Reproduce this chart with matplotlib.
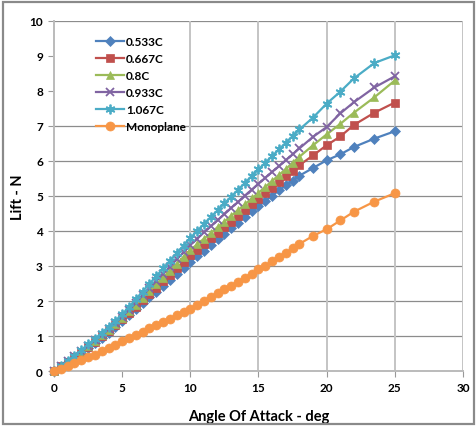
import matplotlib
matplotlib.use("Agg")
import matplotlib.pyplot as plt
from matplotlib.patches import Rectangle

plt.rcParams['font.family'] = ['Lato', 'DejaVu Sans']

# angle of attack (deg): 0.5 steps up to 18, then coarser
angle = [0, 0.5, 1, 1.5, 2, 2.5, 3, 3.5, 4, 4.5, 5, 5.5, 6, 6.5, 7, 7.5, 8, 8.5,
         9, 9.5, 10, 10.5, 11, 11.5, 12, 12.5, 13, 13.5, 14, 14.5, 15, 15.5, 16,
         16.5, 17, 17.5, 18, 19, 20, 21, 22, 23.5, 25]

lift_0533 = [0.00, 0.12, 0.25, 0.38, 0.52, 0.66, 0.80, 0.95, 1.10, 1.26, 1.42,
             1.59, 1.76, 1.93, 2.10, 2.27, 2.44, 2.61, 2.78, 2.95, 3.12,
             3.28, 3.44, 3.60, 3.76, 3.92, 4.08, 4.24, 4.40, 4.56, 4.71,
             4.86, 5.01, 5.16, 5.30, 5.44, 5.58,
             5.80, 6.02, 6.19, 6.40, 6.64, 6.85]
lift_0667 = [0.00, 0.13, 0.26, 0.40, 0.54, 0.69, 0.84, 0.99, 1.15, 1.31, 1.48,
             1.66, 1.84, 2.02, 2.20, 2.38, 2.56, 2.75, 2.93, 3.12, 3.30,
             3.47, 3.63, 3.79, 3.95, 4.11, 4.27, 4.43, 4.60, 4.76, 4.92,
             5.08, 5.24, 5.40, 5.56, 5.72, 5.88,
             6.16, 6.45, 6.70, 7.03, 7.38, 7.67]
lift_08 = [0.00, 0.13, 0.27, 0.41, 0.56, 0.71, 0.86, 1.02, 1.18, 1.35, 1.52,
           1.71, 1.90, 2.09, 2.29, 2.48, 2.67, 2.87, 3.06, 3.26, 3.45,
           3.62, 3.78, 3.94, 4.11, 4.27, 4.44, 4.60, 4.76, 4.93, 5.09,
           5.26, 5.43, 5.60, 5.77, 5.95, 6.12,
           6.45, 6.76, 7.06, 7.38, 7.82, 8.30]
lift_0933 = [0.00, 0.14, 0.28, 0.42, 0.57, 0.72, 0.88, 1.04, 1.21, 1.38, 1.55,
             1.75, 1.95, 2.16, 2.36, 2.57, 2.78, 2.98, 3.19, 3.39, 3.60,
             3.78, 3.96, 4.13, 4.31, 4.48, 4.66, 4.83, 5.01, 5.18, 5.35,
             5.52, 5.69, 5.85, 6.02, 6.19, 6.36,
             6.69, 6.97, 7.36, 7.68, 8.10, 8.42]
lift_1067 = [0.00, 0.14, 0.29, 0.44, 0.60, 0.76, 0.92, 1.09, 1.26, 1.44, 1.62,
             1.83, 2.05, 2.27, 2.49, 2.71, 2.93, 3.15, 3.37, 3.58, 3.80,
             4.00, 4.20, 4.40, 4.59, 4.79, 4.98, 5.18, 5.37, 5.57, 5.76,
             5.95, 6.14, 6.33, 6.52, 6.71, 6.90,
             7.24, 7.64, 7.98, 8.36, 8.80, 9.02]
lift_mono = [0.00, 0.07, 0.15, 0.23, 0.31, 0.39, 0.47, 0.56, 0.65, 0.75, 0.85,
             0.94, 1.03, 1.12, 1.22, 1.31, 1.40, 1.50, 1.59, 1.69, 1.78,
             1.89, 2.00, 2.11, 2.22, 2.33, 2.44, 2.55, 2.67, 2.78, 2.90,
             3.01, 3.13, 3.25, 3.37, 3.50, 3.63,
             3.86, 4.05, 4.30, 4.55, 4.84, 5.08]

labels = ["0.533C", "0.667C", "0.8C", "0.933C", "1.067C", "Monoplane"]
series = [lift_0533, lift_0667, lift_08, lift_0933, lift_1067, lift_mono]
colors = ["#4F81BD", "#C0504D", "#9BBB59", "#8064A2", "#4BACC6", "#F79646"]
markers = ["D", "s", "^", "x", (6, 2, 0), "o"]
msizes = [5, 6, 6, 5.5, 7, 6.5]

fig = plt.figure(figsize=(4.77, 4.27), dpi=100)
ax = fig.add_axes([0.1132, 0.1288, 0.8574, 0.8197])

# gridlines (8 and 9 are not drawn in the original)
for yv in [1, 2, 3, 4, 5, 6, 7, 10]:
    ax.axhline(yv, color="#8C8C8C", lw=0.9, zorder=0)
for xv in [10, 15, 20, 25, 30]:
    ax.axvline(xv, color="#C4C4C4", lw=1.4, zorder=0)

for y, lab, c, m, ms in zip(series, labels, colors, markers, msizes):
    ax.plot(angle, y, color=c, marker=m, markersize=ms, lw=1.6,
            markeredgewidth=1.3 if m in ("x", (6, 2, 0)) else 0.5,
            markeredgecolor=c, label=lab, clip_on=False, zorder=3)

ax.set_xlim(0, 30)
ax.set_ylim(0, 10)
ax.set_xticks(range(0, 31, 5))
ax.set_yticks(range(0, 11))
for s in ["top", "right"]:
    ax.spines[s].set_visible(False)
for s in ["left", "bottom"]:
    ax.spines[s].set_color("#BBBBBB")
    ax.spines[s].set_linewidth(1.4)
ax.tick_params(direction="out", length=4, color="#999999", labelsize=8.5, pad=4)
for t in ax.get_xticklabels() + ax.get_yticklabels():
    t.set_fontweight("bold")

ax.set_xlabel("Angle Of Attack - deg", fontsize=10.5, fontweight="bold")
ax.set_ylabel("Lift - N", fontsize=10.5, fontweight="bold")
ax.xaxis.set_label_coords(0.501, -0.108)
ax.yaxis.set_label_coords(-0.071, 0.5)

leg = ax.legend(loc="upper left", bbox_to_anchor=(0.09, 0.97), frameon=False,
                fontsize=8.5, labelspacing=0.5, handlelength=2.4,
                handletextpad=0.2, borderaxespad=0)
for t in leg.get_texts():
    t.set_fontweight("bold")

fig.add_artist(Rectangle((3 / 477, 2 / 427), 471 / 477, 422 / 427,
                         transform=fig.transFigure, fill=False,
                         edgecolor="#8A8A8A", lw=1.6))

fig.savefig("out.png", dpi=100)
